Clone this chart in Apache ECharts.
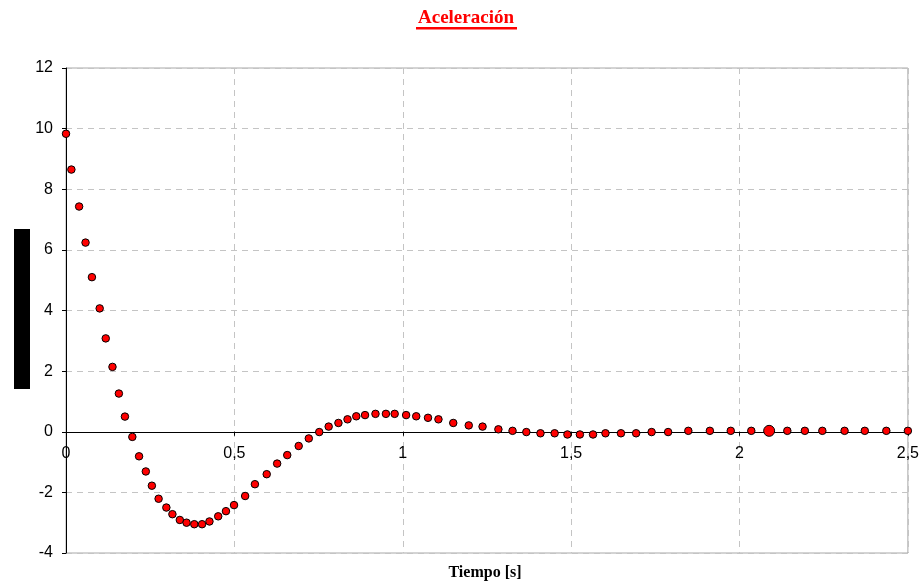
<!DOCTYPE html>
<html>
<head>
<meta charset="utf-8">
<script src="https://cdn.jsdelivr.net/npm/echarts@6/dist/echarts.min.js"></script>
<style>
html,body{margin:0;padding:0;background:#fff;}
#chart{width:922px;height:586px;}
</style>
</head>
<body>
<div id="chart"></div>
<script>
// ---- Data ----
const chartTitle = "Aceleración";
const xAxisTitle = "Tiempo [s]";
const timeS = [0, 0.016, 0.039, 0.058, 0.077, 0.100, 0.118, 0.138, 0.157, 0.175,
  0.197, 0.217, 0.237, 0.255, 0.275, 0.298, 0.316, 0.338, 0.358, 0.381,
  0.404, 0.426, 0.452, 0.475, 0.499, 0.532, 0.561, 0.596, 0.627, 0.657,
  0.691, 0.721, 0.752, 0.780, 0.809, 0.836, 0.862, 0.888, 0.919, 0.950,
  0.976, 1.010, 1.040, 1.075, 1.106, 1.150, 1.196, 1.237, 1.284, 1.326,
  1.367, 1.409, 1.451, 1.489, 1.526, 1.565, 1.602, 1.648, 1.693, 1.739,
  1.788, 1.848, 1.912, 1.974, 2.035, 2.088, 2.142, 2.194, 2.246, 2.312,
  2.372, 2.436, 2.500];
const accel = [9.83, 8.65, 7.43, 6.24, 5.10, 4.07, 3.08, 2.14, 1.26, 0.50,
  -0.17, -0.81, -1.31, -1.78, -2.21, -2.50, -2.72, -2.91, -3.00, -3.05,
  -3.05, -2.96, -2.79, -2.62, -2.42, -2.12, -1.73, -1.40, -1.05, -0.77,
  -0.47, -0.22, -0.01, 0.17, 0.29, 0.41, 0.51, 0.55, 0.59, 0.59,
  0.59, 0.55, 0.51, 0.46, 0.41, 0.29, 0.21, 0.17, 0.08, 0.03,
  -0.01, -0.05, -0.05, -0.09, -0.09, -0.09, -0.05, -0.05, -0.05, -0.01,
  -0.01, 0.03, 0.03, 0.03, 0.03, 0.03, 0.03, 0.03, 0.03, 0.03,
  0.03, 0.03, 0.03];
const highlightedPoint = 65;

const xMin = 0, xMax = 2.5, xStep = 0.5;
const yMin = -4, yMax = 12, yStep = 2;

// ---- Chart ----
const chart = echarts.init(document.getElementById('chart'), null, {renderer: 'canvas'});
const points = timeS.map((t, i) => [t, accel[i]]);
const gridDash = {color: '#c4c4c4', type: [6, 5], width: 1};
const gridTop = 68, gridBottom = 33, chartH = 586;
const plotH = chartH - gridTop - gridBottom;
// move the x axis (line, ticks, labels) up to y = 0
const zeroOffset = -plotH * (0 - yMin) / (yMax - yMin);

chart.setOption({
  animation: false,
  backgroundColor: '#ffffff',
  grid: {left: 66, right: 14, top: gridTop, bottom: gridBottom, show: true, borderColor: '#a8a8a8', borderWidth: 1, containLabel: false},
  xAxis: {
    type: 'value', min: xMin, max: xMax, interval: xStep,
    position: 'bottom', offset: zeroOffset,
    axisLine: {show: true, onZero: false, lineStyle: {color: '#000', width: 1}},
    axisTick: {show: true, length: 4, lineStyle: {color: '#000'}},
    axisLabel: {margin: 14, fontSize: 16, fontFamily: 'Liberation Sans', color: '#000',
      formatter: v => String(v).replace('.', ',')},
    splitLine: {show: true, lineStyle: gridDash}
  },
  yAxis: {
    type: 'value', min: yMin, max: yMax, interval: yStep,
    axisLine: {show: true, onZero: false, lineStyle: {color: '#000', width: 1}},
    axisTick: {show: true, length: 4, lineStyle: {color: '#000'}},
    axisLabel: {margin: 13, fontSize: 16, fontFamily: 'Liberation Sans', color: '#000'},
    splitLine: {show: true, lineStyle: gridDash}
  },
  series: [{
    type: 'scatter',
    data: points,
    symbol: 'circle',
    symbolSize: (val, p) => p.dataIndex === highlightedPoint ? 11 : 7.5,
    itemStyle: {color: '#ff0000', borderColor: '#000', borderWidth: 1, opacity: 1},
    z: 5
  }],
  graphic: [
    {type: 'text', x: 466, y: 18, style: {text: chartTitle, fill: '#ff0000',
      font: 'bold 19px "Liberation Serif"', textAlign: 'center', textVerticalAlign: 'middle'}},
    {type: 'rect', shape: {x: 416, y: 27, width: 101, height: 2.5}, style: {fill: '#ff0000'}},
    {type: 'text', x: 485, y: 573, style: {text: xAxisTitle, fill: '#000',
      font: 'bold 16px "Liberation Serif"', textAlign: 'center', textVerticalAlign: 'middle'}},
    {type: 'rect', shape: {x: 14, y: 229, width: 16, height: 160}, style: {fill: '#000'}}
  ]
});
</script>
</body>
</html>
